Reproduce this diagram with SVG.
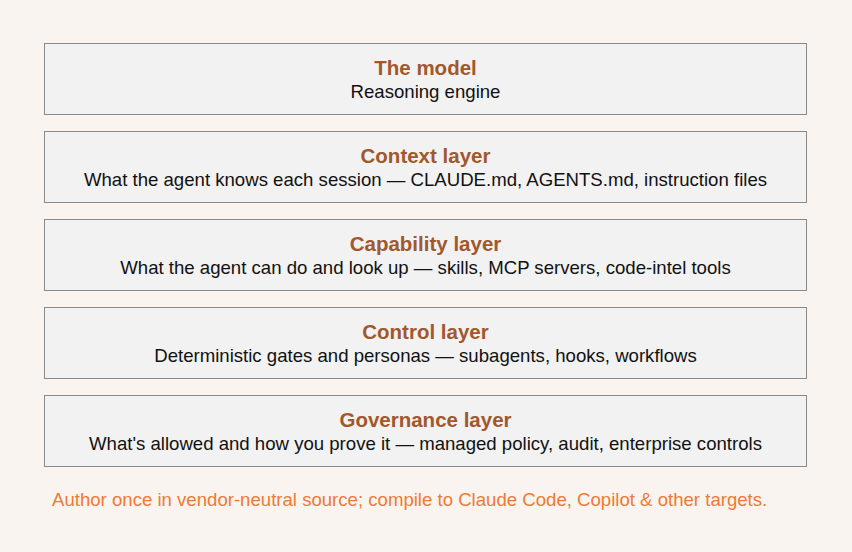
<svg xmlns="http://www.w3.org/2000/svg" width="852" height="552" viewBox="0 0 852 552">
<style>
.box{fill:#f2f2f2;stroke:#8a8a8a;stroke-width:1}
.t{font-family:"Liberation Sans",Arial,sans-serif;font-size:20.5px;font-weight:bold;fill:#a0582c;text-anchor:middle}
.s{font-family:"Liberation Sans",Arial,sans-serif;font-size:18.6px;fill:#111;text-anchor:middle}
.f{font-family:"Liberation Sans",Arial,sans-serif;font-size:18.6px;fill:#ef7a35}
</style>
<rect width="852" height="552" fill="#f9f4ef"/>
<g id="model"><rect class="box" x="44.500" y="43.500" width="762" height="71"/><text class="t" x="425.500" y="75">The model</text><text class="s" x="425.500" y="98">Reasoning engine</text></g>
<g id="context"><rect class="box" x="44.500" y="131.500" width="762" height="71"/><text class="t" x="425.500" y="163">Context layer</text><text class="s" x="425.500" y="186">What the agent knows each session — CLAUDE.md, AGENTS.md, instruction files</text></g>
<g id="capability"><rect class="box" x="44.500" y="219.500" width="762" height="71"/><text class="t" x="425.500" y="251">Capability layer</text><text class="s" x="425.500" y="274">What the agent can do and look up — skills, MCP servers, code-intel tools</text></g>
<g id="control"><rect class="box" x="44.500" y="307.500" width="762" height="71"/><text class="t" x="425.500" y="339">Control layer</text><text class="s" x="425.500" y="362">Deterministic gates and personas — subagents, hooks, workflows</text></g>
<g id="governance"><rect class="box" x="44.500" y="395.500" width="762" height="71"/><text class="t" x="425.500" y="427">Governance layer</text><text class="s" x="425.500" y="450">What's allowed and how you prove it — managed policy, audit, enterprise controls</text></g>
<g id="connectors"/>
<text class="f" x="52" y="506">Author once in vendor-neutral source; compile to Claude Code, Copilot &amp; other targets.</text>
</svg>
